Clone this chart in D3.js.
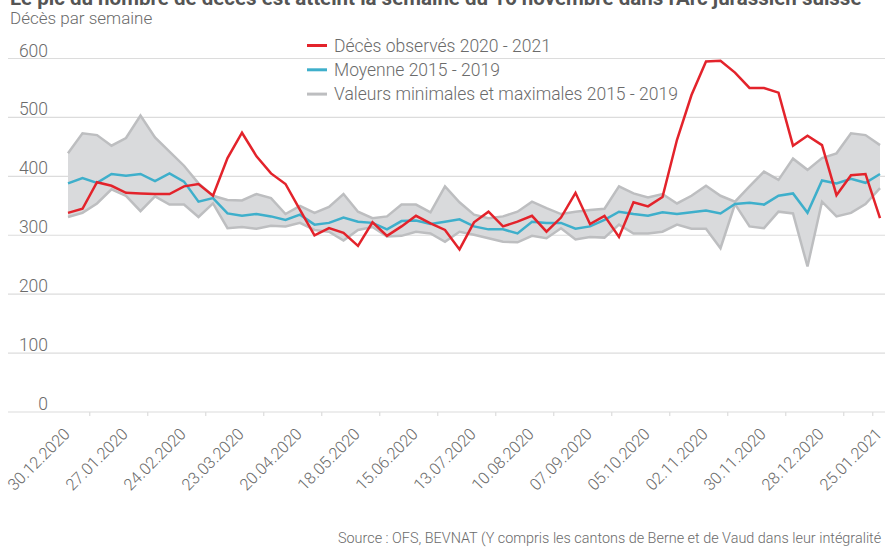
<!DOCTYPE html>
<html>
<head>
<meta charset="utf-8">
<script src="https://cdn.jsdelivr.net/npm/d3@7"></script>
<style>
  body { margin: 0; background: #fff; }
  text { font-family: Roboto, "Noto Sans", sans-serif; font-weight: 300; fill: #6b6b6b; }
</style>
</head>
<body>
<div id="chart"></div>
<script>
// weekly deaths, one value per week, 30.12 -> 25.01.2021 (57 weeks)
var observed = [338, 345, 390, 384, 372, 371, 370, 370, 383, 387, 367, 431, 474, 434, 405, 387, 343, 300, 312, 304,
  282, 322, 299, 315, 333, 320, 309, 276, 322, 340, 315, 323, 333, 306, 330, 372, 319, 333, 297, 356,
  349, 365, 462, 538, 595, 596, 576, 550, 550, 542, 452, 469, 453, 368, 402, 404, 329]
var mean = [388, 397, 389, 404, 401, 404, 392, 405, 391, 357, 363, 337, 333, 336, 332, 326, 335, 318, 321, 330,
  323, 321, 310, 324, 325, 319, 323, 327, 315, 310, 310, 303, 323, 321, 321, 311, 315, 326, 340, 336,
  333, 339, 336, 339, 342, 337, 353, 355, 352, 367, 371, 338, 393, 388, 396, 389, 404]
var maxVals = [439, 473, 470, 452, 465, 503, 466, 442, 418, 388, 367, 360, 359, 370, 363, 336, 350, 338, 348, 370,
  340, 329, 332, 352, 352, 339, 383, 356, 335, 329, 332, 340, 357, 346, 336, 340, 343, 345, 383, 371,
  364, 370, 354, 367, 384, 367, 357, 383, 408, 394, 430, 411, 431, 439, 473, 470, 453]
var minVals = [331, 338, 354, 378, 367, 341, 366, 352, 352, 331, 354, 312, 314, 311, 316, 315, 321, 309, 306, 291,
  309, 314, 298, 299, 306, 303, 289, 306, 301, 295, 289, 288, 299, 295, 312, 293, 297, 296, 318, 303,
  303, 306, 318, 311, 311, 278, 353, 315, 312, 340, 337, 247, 357, 332, 338, 353, 380]
// labels shown every 4 weeks (as printed in the source chart)
var tickLabels = ["30.12.2020", "27.01.2020", "24.02.2020", "23.03.2020", "20.04.2020", "18.05.2020", "15.06.2020",
  "13.07.2020", "10.08.2020", "07.09.2020", "05.10.2020", "02.11.2020", "30.11.2020", "28.12.2020", "25.01.2021"]
var yTicks = [0, 100, 200, 300, 400, 500, 600]
var legendNames = ["Décès observés 2020 - 2021", "Moyenne 2015 - 2019", "Valeurs minimales et maximales 2015 - 2019"]

var width = 885
    height = 547
var red = "#e3232b", blue = "#3eafcb", grey = "#bdbec0", band = "#d9dadc", grid = "#dcdcdc"

var svg = d3.select("#chart")
  .append("svg")
    .attr("width", width)
    .attr("height", height)

var n = observed.length
var weeks = d3.range(n)
var x = d3.scaleLinear().domain([0, n - 1]).range([68, 880])
var y = d3.scaleLinear().domain([0, 600]).range([412, 58.5])
var step = x(1) - x(0)

// title (cut by the top edge in the original) and subtitle
svg.append("text")
  .attr("x", 10).attr("y", 5)
  .style("font-weight", 700).style("font-size", "20.5px").style("fill", "#555")
  .text("Le pic du nombre de décès est atteint la semaine du 16 novembre dans l'Arc jurassien suisse")
svg.append("text")
  .attr("x", 10).attr("y", 24)
  .style("font-size", "17px")
  .text("Décès par semaine")

// horizontal grid + y labels
svg.selectAll(".grid")
  .data(yTicks)
  .enter().append("line")
    .attr("x1", 8).attr("x2", width)
    .attr("y1", function(d) { return y(d) }).attr("y2", function(d) { return y(d) })
    .attr("stroke", grid).attr("stroke-width", 1.2)
svg.selectAll(".ylab")
  .data(yTicks)
  .enter().append("text")
    .attr("x", 48).attr("y", function(d) { return y(d) - 2 })
    .attr("text-anchor", "end")
    .style("font-size", "17.5px")
    .text(function(d) { return d })

// small tick marks on the category axis (between weeks)
var tickIdx = weeks.filter(function(i) { return (i % 4 == 1 && i < n - 2) || i == n - 2 })
svg.selectAll(".xtick")
  .data(tickIdx)
  .enter().append("line")
    .attr("x1", function(i) { return x(i) + step / 2 }).attr("x2", function(i) { return x(i) + step / 2 })
    .attr("y1", y(0)).attr("y2", y(0) + 4)
    .attr("stroke", grid).attr("stroke-width", 1.2)

// rotated date labels
svg.selectAll(".xlab")
  .data(tickLabels)
  .enter().append("text")
    .attr("text-anchor", "end")
    .attr("transform", function(d, k) { return "translate(" + (x(k * 4) + 3) + "," + (y(0) + 23) + ") rotate(-45)" })
    .style("font-size", "16.3px")
    .text(function(d) { return d })

// min / max band
var area = d3.area()
  .x(function(i) { return x(i) })
  .y0(function(i) { return y(minVals[i]) })
  .y1(function(i) { return y(maxVals[i]) })
svg.append("path").datum(weeks).attr("d", area).attr("fill", band)

var line = function(vals) {
  return d3.line().x(function(i) { return x(i) }).y(function(i) { return y(vals[i]) })
}
svg.append("path").datum(weeks).attr("d", line(minVals)).attr("fill", "none").attr("stroke", grey).attr("stroke-width", 2.5)
svg.append("path").datum(weeks).attr("d", line(maxVals)).attr("fill", "none").attr("stroke", grey).attr("stroke-width", 2.5)
svg.append("path").datum(weeks).attr("d", line(mean)).attr("fill", "none").attr("stroke", blue).attr("stroke-width", 2.5)
svg.append("path").datum(weeks).attr("d", line(observed)).attr("fill", "none").attr("stroke", red).attr("stroke-width", 2.5)

// legend
var legendColors = [red, blue, grey]
var leg = svg.selectAll(".leg")
  .data(legendNames)
  .enter().append("g")
    .attr("transform", function(d, k) { return "translate(307," + (45.5 + k * 24.3) + ")" })
leg.append("line")
  .attr("x1", 0).attr("x2", 20)
  .attr("stroke", function(d, k) { return legendColors[k] })
  .attr("stroke-width", 3)
leg.append("text")
  .attr("x", 27).attr("dy", "0.35em")
  .style("font-size", "17.5px")
  .text(function(d) { return d })

// source
svg.append("text")
  .attr("x", 338).attr("y", 543)
  .style("font-size", "14.4px")
  .text("Source : OFS, BEVNAT (Y compris les cantons de Berne et de Vaud dans leur intégralité")
</script>
</body>
</html>
